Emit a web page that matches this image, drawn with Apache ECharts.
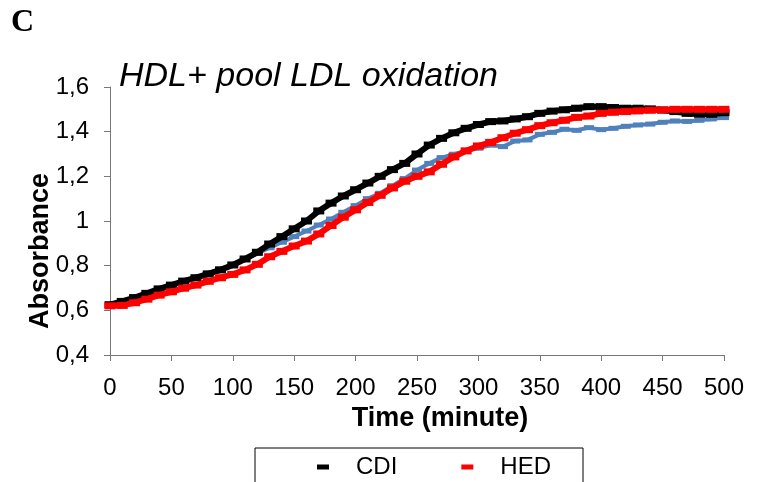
<!DOCTYPE html>
<html>
<head>
<meta charset="utf-8">
<script src="https://cdn.jsdelivr.net/npm/echarts@6/dist/echarts.min.js"></script>
<style>
  html, body { margin: 0; padding: 0; background: #fff; }
  #chartContainer { width: 758px; height: 482px; }
</style>
</head>
<body>
<div id="chartContainer"></div>
<script>
// 时间 (分钟), 每10分钟一个点
const times = [0, 10, 20, 30, 40, 50, 60, 70, 80, 90, 100, 110, 120, 130, 140, 150, 160, 170, 180, 190, 200,
  210, 220, 230, 240, 250, 260, 270, 280, 290, 300, 310, 320, 330, 340, 350, 360, 370, 380, 390, 400,
  410, 420, 430, 440, 450, 460, 470, 480, 490, 500];

// CDI (黑色)
const cdiValues = [0.625, 0.64, 0.657, 0.676, 0.696, 0.713, 0.731, 0.746, 0.763, 0.781, 0.803,
  0.83, 0.86, 0.897, 0.93, 0.965, 1.0, 1.045, 1.08, 1.112, 1.14,
  1.17, 1.2, 1.23, 1.258, 1.3, 1.34, 1.37, 1.395, 1.415, 1.432,
  1.445, 1.448, 1.457, 1.467, 1.482, 1.492, 1.498, 1.505, 1.512, 1.512,
  1.508, 1.505, 1.505, 1.502, 1.497, 1.49, 1.482, 1.478, 1.478, 1.485];

// HED (红色)
const hedValues = [0.62, 0.622, 0.634, 0.65, 0.668, 0.683, 0.699, 0.713, 0.73, 0.746, 0.761,
  0.781, 0.806, 0.84, 0.864, 0.888, 0.91, 0.942, 0.98, 1.017, 1.05,
  1.083, 1.115, 1.148, 1.178, 1.2, 1.22, 1.254, 1.287, 1.314, 1.336,
  1.352, 1.373, 1.393, 1.409, 1.427, 1.44, 1.451, 1.464, 1.47, 1.482,
  1.487, 1.49, 1.493, 1.496, 1.497, 1.5, 1.5, 1.5, 1.5, 1.5];

// 第三条 (蓝色, 图例中未显示)
const blueValues = [0.628, 0.642, 0.658, 0.677, 0.697, 0.714, 0.732, 0.748, 0.766, 0.785, 0.806,
  0.828, 0.855, 0.88, 0.905, 0.93, 0.955, 0.982, 1.009, 1.039, 1.069,
  1.1, 1.124, 1.158, 1.19, 1.228, 1.258, 1.284, 1.299, 1.314, 1.326,
  1.34, 1.333, 1.358, 1.363, 1.388, 1.397, 1.411, 1.406, 1.418, 1.409,
  1.415, 1.424, 1.43, 1.434, 1.442, 1.448, 1.446, 1.451, 1.457, 1.463];

const xTicks = [0, 50, 100, 150, 200, 250, 300, 350, 400, 450, 500];
const yTicks = [0.4, 0.6, 0.8, 1.0, 1.2, 1.4, 1.6];

function pairs(values) {
  return times.map((t, i) => [t, values[i]]);
}

const chartDom = document.getElementById("chartContainer");
const myChart = echarts.init(chartDom);

const axisColor = "#777";
const font = "Arial, 'Liberation Sans', sans-serif";

const option = {
  animation: false,
  backgroundColor: "#fff",
  title: {
    text: "HDL+ pool LDL oxidation",
    left: 114,
    top: 55,
    textStyle: {
      fontFamily: font,
      fontStyle: "italic",
      fontWeight: "normal",
      fontSize: 34,
      color: "#000",
    },
  },
  graphic: [
    {
      type: "text",
      left: 11,
      top: 7,
      style: {
        text: "C",
        font: "bold 32px 'Liberation Serif', 'Times New Roman', serif",
        fill: "#000",
      },
    },
  ],
  legend: {
    data: ["CDI", "HED"],
    left: 255,
    top: 448,
    orient: "horizontal",
    icon: "rect",
    itemWidth: 12,
    itemHeight: 5,
    itemGap: 64,
    padding: [7, 32, 40, 62],
    borderColor: "#000",
    borderWidth: 1,
    textStyle: {
      fontFamily: font,
      fontSize: 24,
      color: "#000",
      padding: [0, 0, 0, 22],
    },
  },
  grid: {
    left: 110,
    right: 34,
    top: 87,
    bottom: 127,
    containLabel: false,
  },
  xAxis: {
    type: "value",
    min: xTicks[0],
    max: xTicks[xTicks.length - 1],
    interval: 50,
    name: "Time (minute)",
    nameLocation: "middle",
    nameGap: 50,
    nameMoveOverlap: false,
    nameTextStyle: {
      fontFamily: font,
      fontWeight: "bold",
      fontSize: 27,
      color: "#000",
      padding: [0, 0, 0, 46],
    },
    axisLine: { lineStyle: { color: axisColor, width: 1 } },
    axisTick: { show: true, length: 6, lineStyle: { color: axisColor } },
    splitLine: { show: false },
    axisLabel: {
      fontFamily: font,
      fontSize: 24,
      color: "#000",
      margin: 21,
    },
  },
  yAxis: {
    type: "value",
    min: yTicks[0],
    max: yTicks[yTicks.length - 1],
    interval: 0.2,
    name: "Absorbance",
    nameLocation: "middle",
    nameRotate: 90,
    nameGap: 56,
    nameMoveOverlap: false,
    nameTextStyle: {
      fontFamily: font,
      fontWeight: "bold",
      fontSize: 27,
      color: "#000",
      padding: [0, 60, 0, 0],
    },
    axisLine: { show: true, lineStyle: { color: axisColor, width: 1 } },
    axisTick: { show: true, length: 6, lineStyle: { color: axisColor } },
    splitLine: { show: false },
    axisLabel: {
      fontFamily: font,
      fontSize: 24,
      color: "#000",
      margin: 21,
      formatter: (v) => String(+v.toFixed(1)).replace(".", ","),
    },
  },
  series: [
    {
      name: "blue",
      type: "line",
      data: pairs(blueValues),
      symbol: "rect",
      symbolSize: [10, 5],
      showSymbol: true,
      itemStyle: { color: "#4f81bd" },
      lineStyle: { color: "#4f81bd", width: 4 },
      z: 2,
    },
    {
      name: "CDI",
      type: "line",
      data: pairs(cdiValues),
      symbol: "rect",
      symbolSize: [11, 7],
      showSymbol: true,
      itemStyle: { color: "#000" },
      lineStyle: { color: "#000", width: 6 },
      z: 3,
    },
    {
      name: "HED",
      type: "line",
      data: pairs(hedValues),
      symbol: "rect",
      symbolSize: [11, 7],
      showSymbol: true,
      itemStyle: { color: "#ff0000" },
      lineStyle: { color: "#ff0000", width: 6 },
      z: 4,
    },
  ],
};

myChart.setOption(option);
</script>
</body>
</html>
